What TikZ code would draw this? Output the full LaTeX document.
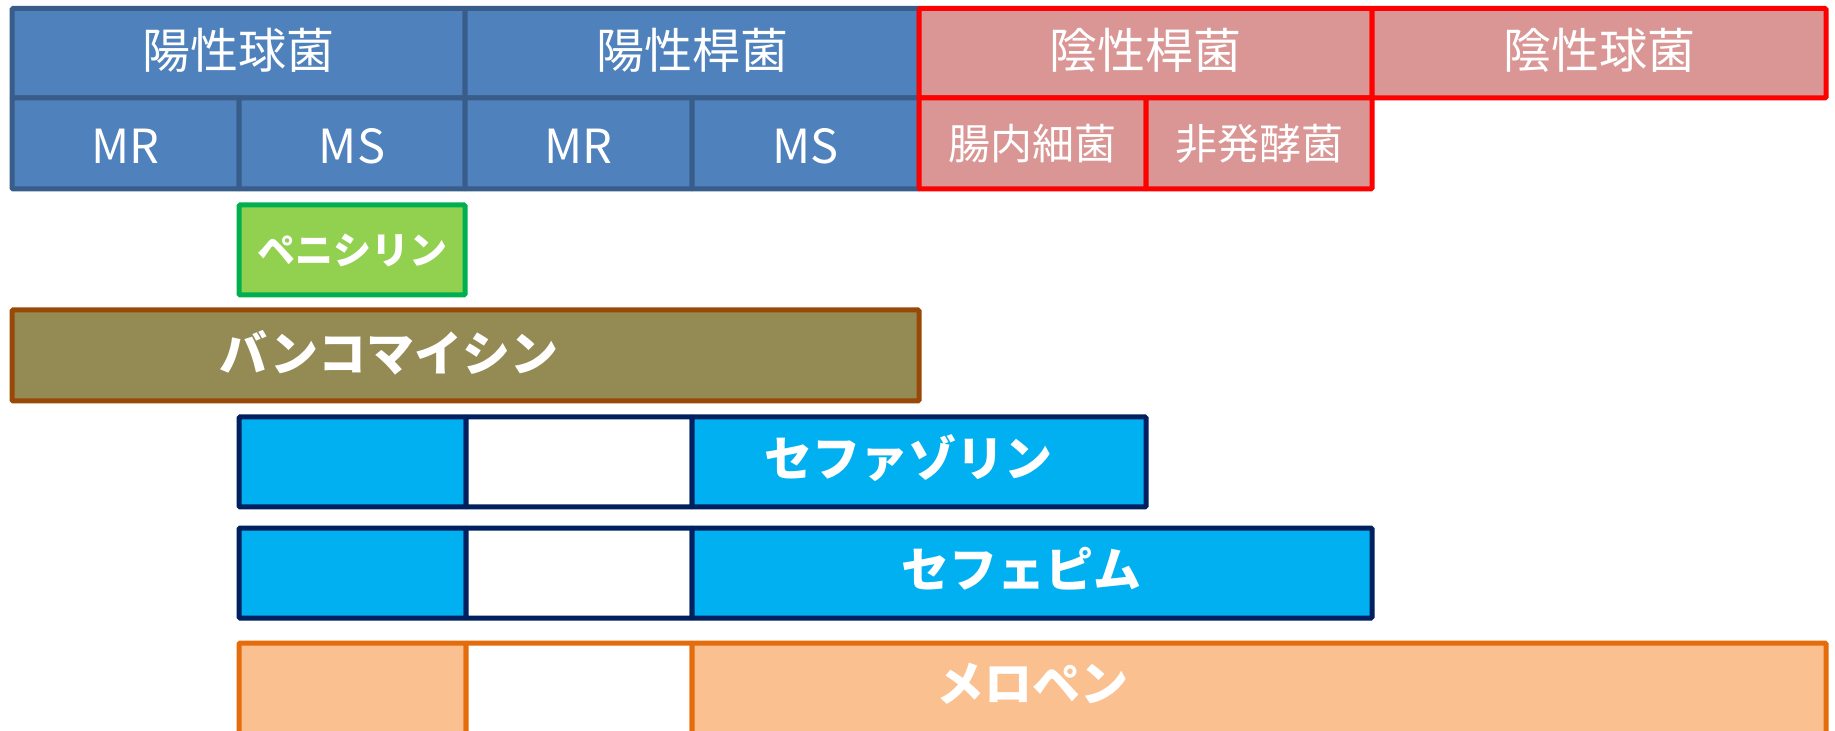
\documentclass[tikz,border=0pt]{standalone}
\usepackage{fontspec}
\setmainfont{Noto Sans CJK JP}
\definecolor{hdblue}{HTML}{4F81BD}
\definecolor{hdblueline}{HTML}{385D8A}
\definecolor{hdred}{HTML}{D99694}
\definecolor{hdredline}{HTML}{FF0000}
\definecolor{pcfill}{HTML}{92D050}
\definecolor{pcline}{HTML}{00B050}
\definecolor{vcfill}{HTML}{948A54}
\definecolor{vcline}{HTML}{984807}
\definecolor{cefill}{HTML}{00B0F0}
\definecolor{celine}{HTML}{002060}
\definecolor{mefill}{HTML}{FAC090}
\definecolor{meline}{HTML}{E46C0A}
\begin{document}
\begin{tikzpicture}[x=0.5pt,y=-0.5pt,
  cellbase/.style={rectangle, inner sep=0pt, outer sep=0pt, line width=2.5pt, rounded corners=0.6pt, text=white},
  bluecell/.style={cellbase, draw=hdblueline, fill=hdblue},
  redcell/.style={cellbase, draw=hdredline, fill=hdred},
  hdtext/.style={font=\fontsize{24pt}{26pt}\selectfont, text height=19.9pt, text depth=4.7pt},
  subtext/.style={font=\fontsize{21pt}{23pt}\selectfont},
  latintext/.style={font=\fontsize{23.5pt}{25pt}\selectfont, text height=20.2pt, text depth=0pt},
  drugtext/.style={text=white, inner sep=0pt, font=\bfseries\fontsize{24pt}{26pt}\selectfont},
  pccell/.style={cellbase, draw=pcline, fill=pcfill, font=\bfseries\fontsize{19pt}{21pt}\selectfont},
  vccell/.style={cellbase, draw=vcline, fill=vcfill},
  cecell/.style={cellbase, draw=celine, fill=cefill},
  cewhite/.style={cellbase, draw=celine, fill=white},
  mecell/.style={cellbase, draw=meline, fill=mefill},
  mewhite/.style={cellbase, draw=meline, fill=white}]
\useasboundingbox (0,0) rectangle (1835,731);
\clip (0,0) rectangle (1835,731);
\fill[white] (0,0) rectangle (1835,731);

% header row 1
\node[bluecell, hdtext, minimum width=226.5pt, minimum height=44.75pt] (gpc) at (238.5,53.25) {陽性球菌};
\node[bluecell, hdtext, minimum width=227pt, minimum height=44.75pt] (gpr) at (692,53.25) {陽性桿菌};
% header row 2 (blue)
\node[bluecell, latintext, minimum width=113.5pt, minimum height=45.5pt] (gpcmr) at (125.5,143.5) {MR};
\node[bluecell, latintext, minimum width=113pt, minimum height=45.5pt] (gpcms) at (352,143.5) {MS};
\node[bluecell, latintext, minimum width=113.5pt, minimum height=45.5pt] (gprmr) at (578.5,143.5) {MR};
\node[bluecell, latintext, minimum width=113.5pt, minimum height=45.5pt] (gprms) at (805.5,143.5) {MS};
% red headers
\node[redcell, hdtext, minimum width=226.5pt, minimum height=44.75pt] (gnr) at (1145.5,53.25) {陰性桿菌};
\node[redcell, hdtext, minimum width=227pt, minimum height=44.75pt] (gnc) at (1599,53.25) {陰性球菌};
\node[redcell, subtext, minimum width=113.5pt, minimum height=45.5pt] (ent) at (1032.5,143.5) {腸内細菌};
\node[redcell, subtext, minimum width=113pt, minimum height=45.5pt] (nonf) at (1259,143.5) {非発酵菌};

% penicillin
\node[pccell, minimum width=113pt, minimum height=45pt] (pc) at (352,250) {ペニシリン};

% vancomycin
\node[vccell, minimum width=453.5pt, minimum height=45.5pt] (vc) at (465.5,355.5) {};
\node[drugtext] (vct) at (389,353) {バンコマイシン};

% cefazolin
\node[cecell, minimum width=113.5pt, minimum height=45pt] (cez1) at (352.5,462) {};
\node[cewhite, minimum width=113pt, minimum height=45pt] (cez2) at (579,462) {};
\node[cecell, minimum width=227pt, minimum height=45pt] (cez3) at (919,462) {};
\node[drugtext] (cezt) at (908,458) {セファゾリン};

% cefepime
\node[cecell, minimum width=113.5pt, minimum height=45pt] (cfp1) at (352.5,573) {};
\node[cewhite, minimum width=113pt, minimum height=45pt] (cfp2) at (579,573) {};
\node[cecell, minimum width=340pt, minimum height=45pt] (cfp3) at (1032,573) {};
\node[drugtext] (cfpt) at (1021,569) {セフェピム};

% meropenem
\node[mecell, minimum width=113.5pt, minimum height=48pt] (mp1) at (352.5,691) {};
\node[mewhite, minimum width=113pt, minimum height=48pt] (mp2) at (579,691) {};
\node[mecell, minimum width=567pt, minimum height=48pt] (mp3) at (1259,691) {};
\node[drugtext] (mpt) at (1032,684) {メロペン};
\end{tikzpicture}
\end{document}
